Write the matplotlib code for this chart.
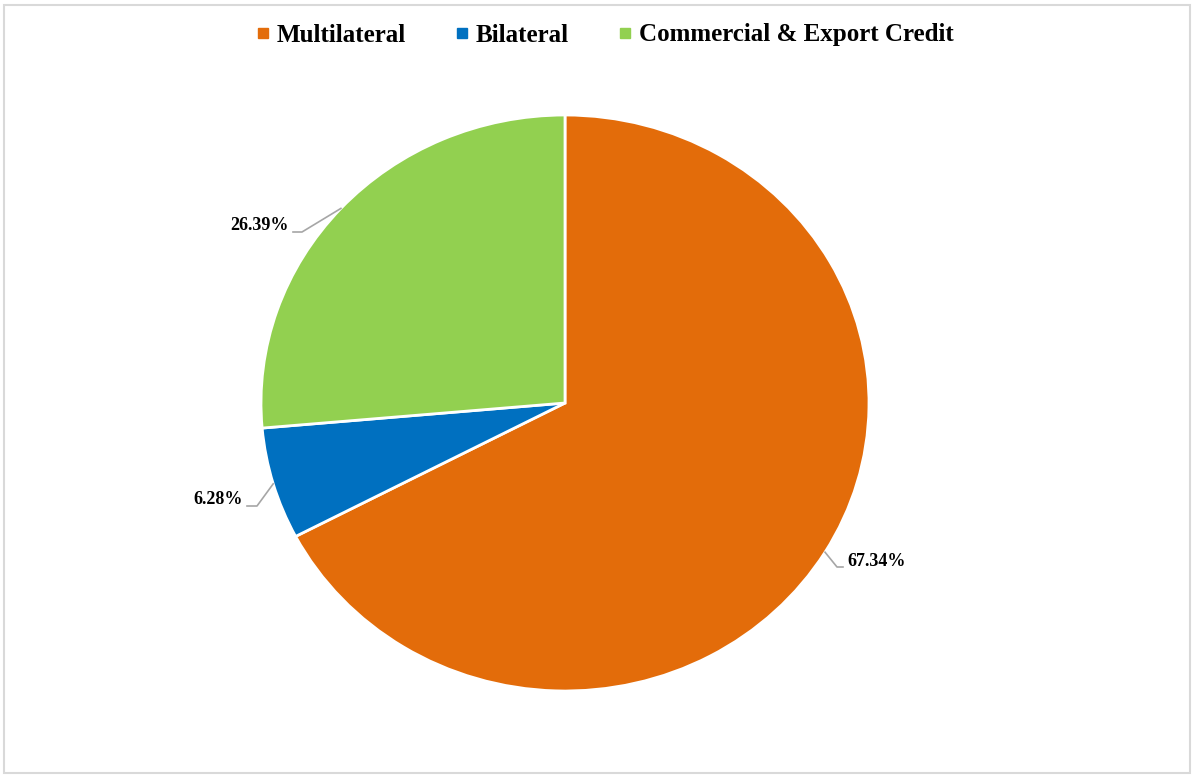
import matplotlib.pyplot as plt
from matplotlib.lines import Line2D
from matplotlib.patches import Rectangle
import numpy as np

# debt composition by creditor type
categories = ['Multilateral', 'Bilateral', 'Commercial & Export Credit']
shares = [67.34, 6.28, 26.39]
colors = ['#E36C0A', '#0070C0', '#92D050']

W, H = 1196, 775
cx, cy, rx, ry = 565, 403, 304, 288

# label layout in pixels: elbow, line end, text anchor
elbows = [(837, 567), (257, 506), (302, 232)]
ends = [(843, 567), (247, 506), (293, 232)]
text_pos = [(847, 561, 'left'), (243, 499, 'right'), (289, 225, 'right')]

plt.rcParams['font.family'] = ['Liberation Serif', 'DejaVu Serif']

fig = plt.figure(figsize=(W / 100, H / 100), dpi=100)
fig.patches.append(Rectangle((4 / W, 2 / H), 1186 / W, 768 / H, transform=fig.transFigure,
                             fill=False, edgecolor='#d9d9d9', linewidth=1.5))

ax = fig.add_axes([(cx - rx) / W, (H - cy - ry) / H, 2 * rx / W, 2 * ry / H])
wedges, _ = ax.pie(shares, colors=colors, startangle=90, counterclock=False,
                   wedgeprops=dict(edgecolor='white', linewidth=2))
ax.set_aspect('auto')
ax.set_xlim(-1, 1)
ax.set_ylim(-1, 1)
ax.axis('off')


def px(x, y):
    return (x - cx) / rx, (cy - y) / ry


for w, val, el, en, tp in zip(wedges, shares, elbows, ends, text_pos):
    mid = np.deg2rad((w.theta1 + w.theta2) / 2)
    x0, y0 = np.cos(mid), np.sin(mid)
    ex, ey = px(*el)
    nx, ny = px(*en)
    ax.plot([x0, ex, nx], [y0, ey, ny], color='#a6a6a6', linewidth=1.2, clip_on=False)
    tx, ty = px(tp[0], tp[1])
    ax.text(tx, ty, f'{val:.2f}%', ha=tp[2], va='center', fontsize=13,
            fontweight='bold', color='black')

handles = [Line2D([], [], marker='s', linestyle='none', markersize=7,
                  markerfacecolor=c, markeredgecolor=c) for c in colors]
fig.legend(handles, categories, loc='center', bbox_to_anchor=(605 / W, 1 - 35 / H),
           ncol=3, frameon=False, prop=dict(size=18, weight='bold'),
           handlelength=0.5, handletextpad=0.3, columnspacing=2.0)

fig.savefig('out.png', dpi=100)
